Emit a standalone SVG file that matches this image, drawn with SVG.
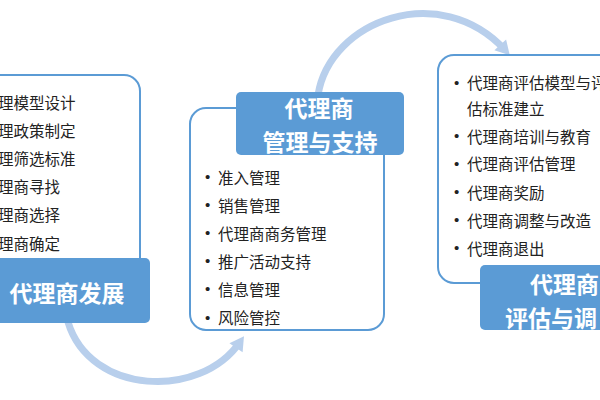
<svg xmlns="http://www.w3.org/2000/svg" width="600" height="400" viewBox="0 0 600 400">
<style>
.frame{fill:#fff;stroke:#5B9BD5;stroke-width:2}
.lab{fill:#5B9BD5}
.lt{fill:#fff;font-family:"Noto Sans CJK SC","Microsoft YaHei",sans-serif;font-weight:bold;font-size:23px;dominant-baseline:central}
.it{fill:#222;font-family:"Noto Sans CJK SC","Microsoft YaHei",sans-serif;font-size:15.5px;dominant-baseline:central}
.bu{fill:#222;font-family:"Liberation Sans",Arial,sans-serif;font-size:15px;dominant-baseline:central}
.arc{fill:none;stroke:#B8CFEC;stroke-width:7}
</style>
<defs>
<marker id="ah" markerUnits="userSpaceOnUse" markerWidth="18" markerHeight="18" refX="9" refY="9" orient="auto">
<path d="M2,1 L16,9 L2,17 Z" fill="#B8CFEC"/>
</marker>
</defs>
<g id="connectors">
<path class="arc" d="M68,322 C90,395 200,400 240,342" marker-end="url(#ah)"/>
<path class="arc" d="M318,95 C330,20 440,-20 505,50" marker-end="url(#ah)"/>
</g>
<g id="node-develop">
<rect class="frame" x="-20" y="75" width="160" height="225" rx="16"/>
<rect class="lab" x="-10" y="258" width="160" height="65" rx="5"/>
<text class="lt" x="67" y="292" text-anchor="middle">代理商发展</text>
<text class="it" x="-2" y="101.5">理模型设计</text>
<text class="it" x="-2" y="129.7">理政策制定</text>
<text class="it" x="-2" y="157.9">理筛选标准</text>
<text class="it" x="-2" y="186.1">理商寻找</text>
<text class="it" x="-2" y="214.3">理商选择</text>
<text class="it" x="-2" y="242.5">理商确定</text>
</g>
<g id="node-manage">
<rect class="frame" x="190" y="108" width="194" height="222" rx="16"/>
<rect class="lab" x="236" y="92" width="168" height="63" rx="5"/>
<text class="lt" x="319" y="107" text-anchor="middle">代理商</text>
<text class="lt" x="320" y="141" text-anchor="middle">管理与支持</text>
<text class="bu" x="205" y="176.5">•</text><text class="it" x="218" y="176.5">准入管理</text>
<text class="bu" x="205" y="204.6">•</text><text class="it" x="218" y="204.6">销售管理</text>
<text class="bu" x="205" y="232.7">•</text><text class="it" x="218" y="232.7">代理商商务管理</text>
<text class="bu" x="205" y="260.8">•</text><text class="it" x="218" y="260.8">推广活动支持</text>
<text class="bu" x="205" y="288.9">•</text><text class="it" x="218" y="288.9">信息管理</text>
<text class="bu" x="205" y="317">•</text><text class="it" x="218" y="317">风险管控</text>
</g>
<g id="node-evaluate">
<rect class="frame" x="438" y="55" width="190" height="228" rx="16"/>
<rect class="lab" x="480" y="265" width="140" height="65" rx="5"/>
<text class="lt" x="530" y="283">代理商</text>
<text class="lt" x="505" y="317">评估与调</text>
<text class="bu" x="454" y="82">•</text><text class="it" x="467" y="82">代理商评估模型与评</text>
<text class="it" x="467" y="108">估标准建立</text>
<text class="bu" x="454" y="135.5">•</text><text class="it" x="467" y="135.5">代理商培训与教育</text>
<text class="bu" x="454" y="163">•</text><text class="it" x="467" y="163">代理商评估管理</text>
<text class="bu" x="454" y="191.5">•</text><text class="it" x="467" y="191.5">代理商奖励</text>
<text class="bu" x="454" y="219.5">•</text><text class="it" x="467" y="219.5">代理商调整与改造</text>
<text class="bu" x="454" y="247.5">•</text><text class="it" x="467" y="247.5">代理商退出</text>
</g>
</svg>
